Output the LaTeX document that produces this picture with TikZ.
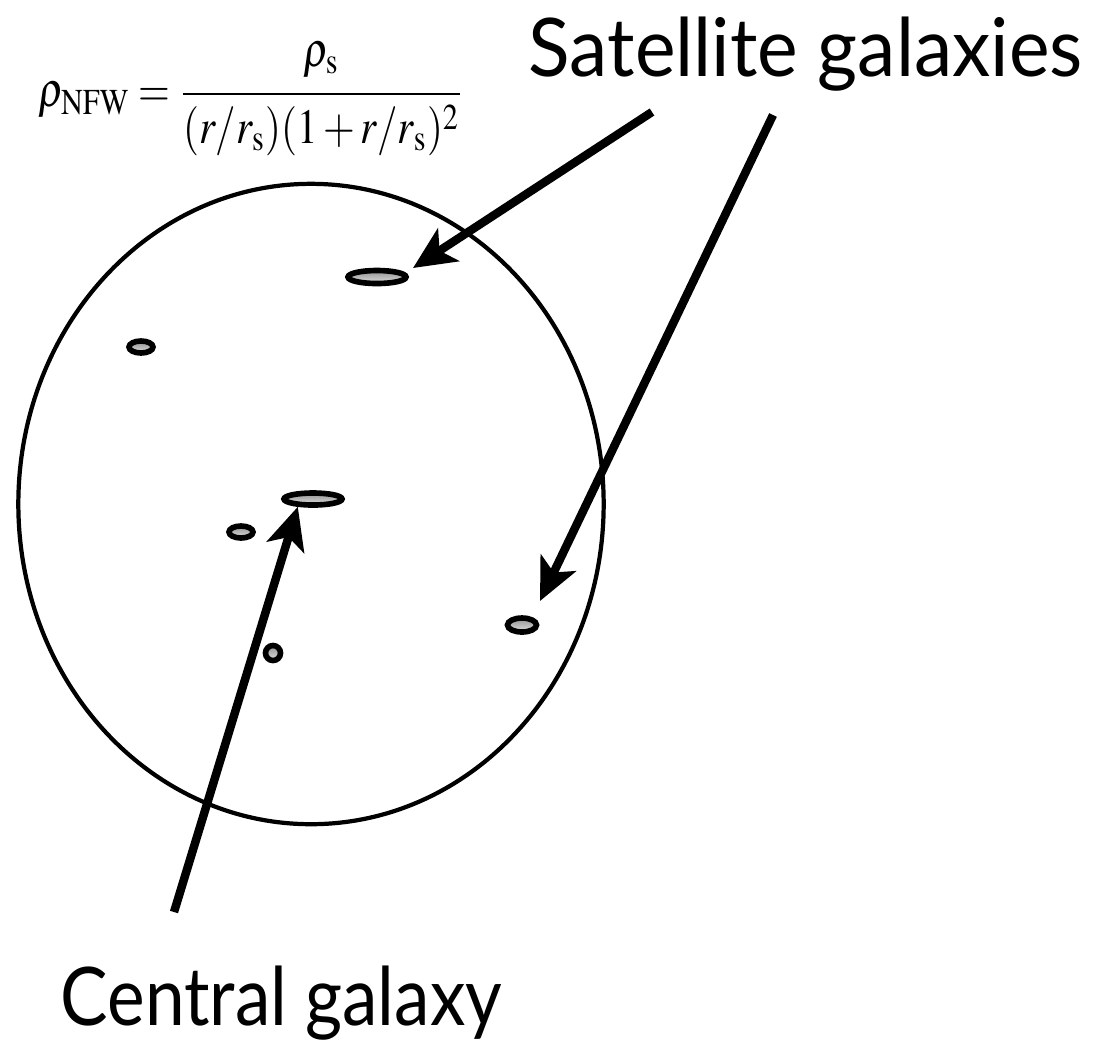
\documentclass[tikz,border=0pt]{standalone}
\usepackage{amsmath}
\usepackage{graphicx}
\usepackage{mathptmx}
\usepackage{fontspec}
\setmainfont{Liberation Serif}
\newfontfamily\galfont[FakeStretch=0.88]{Lato}
\newfontfamily\satfont[FakeStretch=0.95]{Lato}
\usetikzlibrary{shapes.geometric,arrows.meta,positioning,calc}

\begin{document}
\begin{tikzpicture}[x=0.01cm, y=-0.01cm,
    galaxy/.style={ellipse, draw, line width=1.6pt, inner sep=0pt, top color=gray!85, bottom color=gray!25},
    pointer/.style={line width=2.4pt, -{Stealth[length=12pt, width=11pt, inset=3pt]}},
    bigtext/.style={font=#1\fontsize{23}{27}\selectfont, anchor=base west, inner sep=0pt}]
    \useasboundingbox (0,0) rectangle (1094,1041);

    % halo
    \node[ellipse, draw, line width=1.2pt, minimum width=5.85cm, minimum height=6.4cm, inner sep=0pt] (halo) at (311,504) {};

    % galaxies
    \node[galaxy, minimum width=0.58cm, minimum height=0.13cm] (sat1) at (377,277) {};
    \node[galaxy, minimum width=0.24cm, minimum height=0.12cm] (sat2) at (141,347) {};
    \node[galaxy, minimum width=0.58cm, minimum height=0.12cm] (cen) at (313,499) {};
    \node[galaxy, minimum width=0.24cm, minimum height=0.12cm] (sat3) at (241,532) {};
    \node[galaxy, minimum width=0.29cm, minimum height=0.14cm] (sat4) at (522,625) {};
    \node[galaxy, circle, minimum size=0.15cm] (sat5) at (273,653) {};

    % labels
    \node[anchor=west, inner sep=0pt, font=\fontsize{14}{16}\selectfont] (nfw) at (38,99)
        {\scalebox{0.83}[1]{$\displaystyle \rho_{\mathrm{NFW}} = \frac{\rho_{\mathrm{s}}\rule[-6pt]{0pt}{0pt}}{\rule{0pt}{12pt}(r/r_{\mathrm{s}})(1+r/r_{\mathrm{s}})^2}$}};
    \node[bigtext=\satfont] (sattext) at (528,76) {Satellite galaxies};
    \node[bigtext=\galfont] (centext) at (60,1025) {Central galaxy};

    % pointers
    \coordinate (satAtail) at (652,112);
    \coordinate (satAtip) at (413,268);
    \coordinate (satBtail) at (773,115);
    \coordinate (satBtip) at (540,601);
    \coordinate (centail) at (174,912);
    \draw[pointer] (satAtail) -- (satAtip);
    \draw[pointer] (satBtail) -- (satBtip);
    \draw[pointer] (centail) -- (cen.207);
\end{tikzpicture}
\end{document}
